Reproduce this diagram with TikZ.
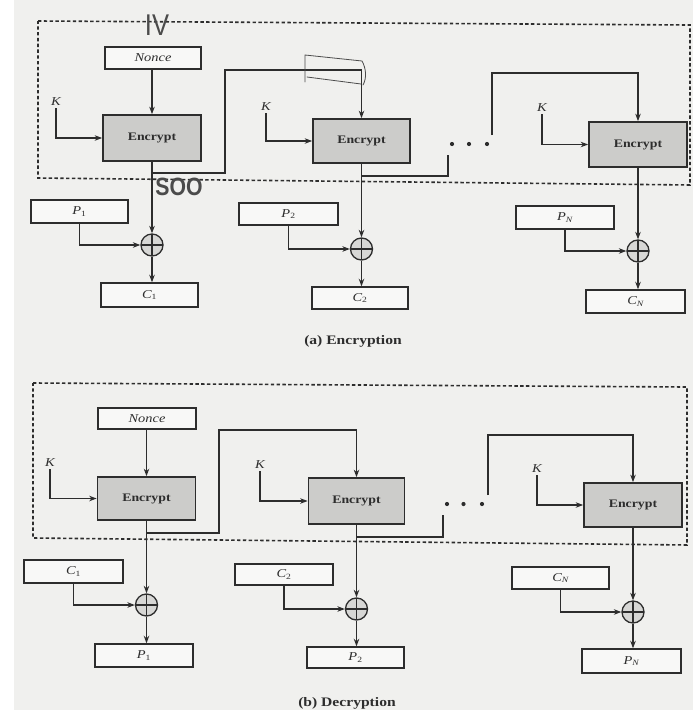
\documentclass[tikz,border=0pt]{standalone}
\usepackage{fontspec}
\setmainfont[FakeStretch=1.2]{Liberation Serif}
\newfontfamily\notefont[FakeStretch=0.85]{Liberation Sans}
\usetikzlibrary{arrows.meta,calc}

\definecolor{paper}{RGB}{240,240,238}
\definecolor{ink}{RGB}{45,45,45}
\definecolor{boxfill}{RGB}{204,204,202}
\definecolor{pen}{RGB}{75,75,75}

\tikzset{
  frame/.style={draw=ink, line width=1.6pt, dash pattern=on 3.4pt off 2.4pt},
  iobox/.style={draw=ink, line width=1.4pt, fill=white!55!paper, inner sep=0pt,
    text=ink, font=\fontsize{12}{13}\selectfont\itshape},
  encbox/.style={draw=ink, line width=1.7pt, fill=boxfill, inner sep=0pt,
    text=ink, font=\fontsize{11.5}{13}\selectfont\bfseries},
  xorop/.style={circle, draw=ink, line width=1.3pt, fill=boxfill!70!paper,
    minimum size=22pt, inner sep=0pt,
    path picture={\draw[ink, line width=1.2pt]
      (path picture bounding box.north) -- (path picture bounding box.south)
      (path picture bounding box.west) -- (path picture bounding box.east);}},
  wire/.style={draw=ink, line width=1.3pt},
  flow/.style={wire, -{Stealth[length=7.5pt,width=5.5pt]}},
  keylab/.style={inner sep=2pt, text=ink, font=\fontsize{12}{13}\selectfont\itshape},
  dotmark/.style={circle, fill=ink, minimum size=4.2pt, inner sep=0pt},
  caption/.style={inner sep=0pt, text=ink, font=\fontsize{13}{14}\selectfont\bfseries},
  scrawl/.style={draw=pen, line width=0.8pt, line cap=round, line join=round},
  note/.style={text=pen, inner sep=0pt}
}

\begin{document}
\begin{tikzpicture}[x=1pt,y=-1pt]
% page
\fill[paper] (0,0) rectangle (693,710);
\fill[white] (0,0) rectangle (14,710);
\useasboundingbox (0,0) rectangle (693,710);

% ================= (a) Encryption =================
\draw[frame] (38,21) -- (690,25) -- (690,185) -- (38,178) -- cycle;

\node[iobox, minimum width=96pt, minimum height=22pt] (nonceA) at (153,58) {Nonce};

\node[encbox, minimum width=98pt, minimum height=46pt] (encA1) at (152,138) {Encrypt};
\node[encbox, minimum width=97pt, minimum height=44pt] (encA2) at (361.5,141) {Encrypt};
\node[encbox, minimum width=98pt, minimum height=45pt] (encA3) at (638,144.5) {Encrypt};

\node[keylab] (kA1) at (56,102) {K};
\node[keylab] (kA2) at (266,107) {K};
\node[keylab] (kA3) at (542,108) {K};

\node[xorop] (xA1) at (152,245) {};
\node[xorop] (xA2) at (361.5,249) {};
\node[xorop] (xA3) at (638,251) {};

\node[iobox, minimum width=97pt, minimum height=23pt] (pA1) at (79.5,211.5) {P\textsubscript{\upshape 1}};
\node[iobox, minimum width=99pt, minimum height=22pt] (pA2) at (288.5,214) {P\textsubscript{\upshape 2}};
\node[iobox, minimum width=98pt, minimum height=23pt] (pA3) at (565,217.5) {P\textsubscript{N}};

\node[iobox, minimum width=97pt, minimum height=24pt] (cA1) at (149.5,295) {C\textsubscript{\upshape 1}};
\node[iobox, minimum width=96pt, minimum height=22pt] (cA2) at (360,298) {C\textsubscript{\upshape 2}};
\node[iobox, minimum width=99pt, minimum height=23pt] (cA3) at (635.5,301.5) {C\textsubscript{N}};

\node[caption] (capA) at (353,341) {(a) Encryption};

% key inputs
\draw[flow] (kA1.south) |- (encA1.west);
\draw[flow] (kA2.south) |- (encA2.west);
\draw[flow] (kA3.south) |- (encA3.west);

% nonce into first block
\draw[flow] (nonceA.south -| encA1.north) -- (encA1.north);

% keystream to the XORs and outputs
\draw[flow] (encA1.south) -- (xA1.north);
\draw[flow] (encA2.south) -- (xA2.north);
\draw[flow] (encA3.south) -- (xA3.north);
\draw[flow] (xA1.south) -- (xA1.south |- cA1.north);
\draw[flow] (xA2.south) -- (xA2.south |- cA2.north);
\draw[flow] (xA3.south) -- (xA3.south |- cA3.north);

% plaintext into the XORs
\draw[flow] (pA1.south) |- (xA1.west);
\draw[flow] (pA2.south) |- (xA2.west);
\draw[flow] (pA3.south) |- (xA3.west);

% output feedback
\coordinate (brA1) at (152,173);
\coordinate (upA1) at (225,70);
\draw[flow] (brA1) -| (upA1) -| (encA2.north);

\coordinate (brA2) at (361.5,176);
\coordinate (gapA2) at (448,155);
\draw[wire] (brA2) -| (gapA2);

\node[dotmark] (dA1) at (452,144) {};
\node[dotmark] (dA2) at (469,144) {};
\node[dotmark] (dA3) at (487,144) {};

\coordinate (gapA3) at (492,135);
\coordinate (topA3) at (492,73);
\draw[flow] (gapA3) -- (topA3) -| (encA3.north);

% pencil notes
\node[note, font=\notefont\fontsize{30}{30}\selectfont] (ivnote) at (157,25) {IV};
\node[note, font=\notefont\fontsize{25}{25}\selectfont\bfseries] (soonote) at (179,187) {SOO};
\draw[scrawl] (305,82) -- (305,55) -- (362,61)
  .. controls (366,68) and (367,78) .. (363,85);
\draw[scrawl] (307,77) -- (361,84);

% ================= (b) Decryption =================
\draw[frame] (33,383) -- (687,387) -- (687,545) -- (33,538) -- cycle;

\node[iobox, minimum width=98pt, minimum height=21pt] (nonceB) at (147,418.5) {Nonce};

\node[encbox, minimum width=98pt, minimum height=43pt] (encB1) at (146.5,498.5) {Encrypt};
\node[encbox, minimum width=96pt, minimum height=46pt] (encB2) at (356.5,501) {Encrypt};
\node[encbox, minimum width=98pt, minimum height=44pt] (encB3) at (633,505) {Encrypt};

\node[keylab] (kB1) at (50,463) {K};
\node[keylab] (kB2) at (260,465) {K};
\node[keylab] (kB3) at (537,469) {K};

\node[xorop] (xB1) at (146.5,605) {};
\node[xorop] (xB2) at (356.5,609) {};
\node[xorop] (xB3) at (633,612) {};

\node[iobox, minimum width=99pt, minimum height=23pt] (cB1) at (73.5,571.5) {C\textsubscript{\upshape 1}};
\node[iobox, minimum width=98pt, minimum height=21pt] (cB2) at (284,574.5) {C\textsubscript{\upshape 2}};
\node[iobox, minimum width=97pt, minimum height=22pt] (cB3) at (560.5,578) {C\textsubscript{N}};

\node[iobox, minimum width=98pt, minimum height=23pt] (pB1) at (144,655.5) {P\textsubscript{\upshape 1}};
\node[iobox, minimum width=97pt, minimum height=21pt] (pB2) at (355.5,657.5) {P\textsubscript{\upshape 2}};
\node[iobox, minimum width=99pt, minimum height=24pt] (pB3) at (631.5,661) {P\textsubscript{N}};

\node[caption] (capB) at (347,703) {(b) Decryption};

% key inputs
\draw[flow] (kB1.south) |- (encB1.west);
\draw[flow] (kB2.south) |- (encB2.west);
\draw[flow] (kB3.south) |- (encB3.west);

% nonce into first block
\draw[flow] (nonceB.south -| encB1.north) -- (encB1.north);

% keystream to the XORs and outputs
\draw[flow] (encB1.south) -- (xB1.north);
\draw[flow] (encB2.south) -- (xB2.north);
\draw[flow] (encB3.south) -- (xB3.north);
\draw[flow] (xB1.south) -- (xB1.south |- pB1.north);
\draw[flow] (xB2.south) -- (xB2.south |- pB2.north);
\draw[flow] (xB3.south) -- (xB3.south |- pB3.north);

% ciphertext into the XORs
\draw[flow] (cB1.south) |- (xB1.west);
\draw[flow] (cB2.south) |- (xB2.west);
\draw[flow] (cB3.south) |- (xB3.west);

% output feedback
\coordinate (brB1) at (146.5,533);
\coordinate (upB1) at (219,430);
\draw[flow] (brB1) -| (upB1) -| (encB2.north);

\coordinate (brB2) at (356.5,537);
\coordinate (gapB2) at (443,515);
\draw[wire] (brB2) -| (gapB2);

\node[dotmark] (dB1) at (447,504) {};
\node[dotmark] (dB2) at (463.5,504) {};
\node[dotmark] (dB3) at (482,504) {};

\coordinate (gapB3) at (488,495);
\coordinate (topB3) at (488,435);
\draw[flow] (gapB3) -- (topB3) -| (encB3.north);
\end{tikzpicture}
\end{document}
